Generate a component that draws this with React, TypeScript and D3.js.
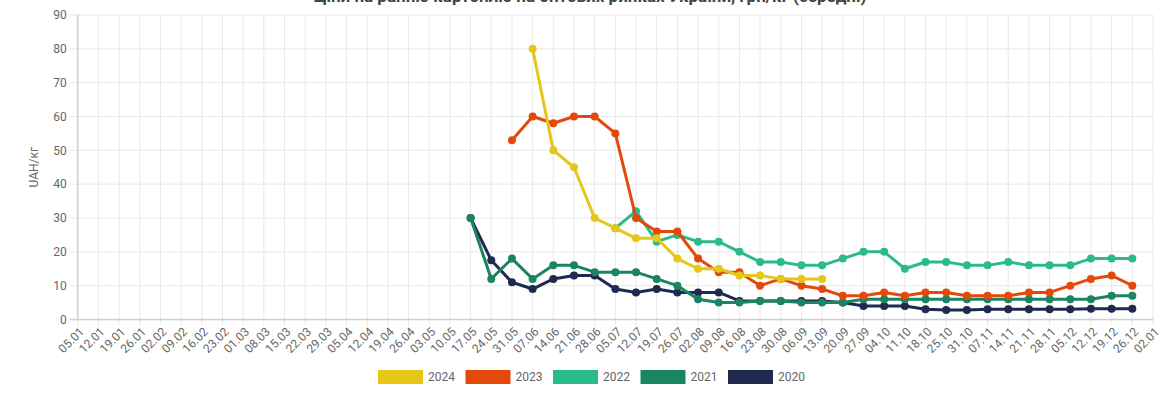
import React from "react";
import * as d3 from "d3";

const labels = ["05.01","12.01","19.01","26.01","02.02","09.02","16.02","23.02","01.03","08.03","15.03","22.03","29.03","05.04","12.04","19.04","26.04","03.05","10.05","17.05","24.05","31.05","07.06","14.06","21.06","28.06","05.07","12.07","19.07","26.07","02.08","09.08","16.08","23.08","30.08","06.09","13.09","20.09","27.09","04.10","11.10","18.10","25.10","31.10","07.11","14.11","21.11","28.11","05.12","12.12","19.12","26.12","02.01"];

const yTicks = [0, 10, 20, 30, 40, 50, 60, 70, 80, 90];

const start2024 = "07.06";
const values2024 = [80,50,45,30,27,24,24,18,15,15,13,13,12,12,12];
const start2023 = "31.05";
const values2023 = [53,60,58,60,60,55,30,26,26,18,14,14,10,12,10,9,7,7,8,7,8,8,7,7,7,8,8,10,12,13,10];
const start2022 = "05.07";
const values2022 = [27,32,23,25,23,23,20,17,17,16,16,18,20,20,15,17,17,16,16,17,16,16,16,18,18,18];
const start2021 = "17.05";
const values2021 = [30,12,18,12,16,16,14,14,14,12,10,6,5,5,5.5,5.5,5,5,5,6,6,6,6,6,6,6,6,6,6,6,6,7,7];
const start2020 = "17.05";
const values2020 = [30,17.5,11,9,12,13,13,9,8,9,8,8,8,5.5,5.5,5.5,5.5,5.5,5,4,4,4,3,2.8,2.8,3,3,3,3,3,3.2,3.2,3.2];

const seriesNames = ["2024", "2023", "2022", "2021", "2020"];
const seriesColors = ["#e6c619", "#e2490b", "#2bbb8a", "#1a8560", "#1f2a4e"];

const series = [
  { name: "2024", start: start2024, values: values2024 },
  { name: "2023", start: start2023, values: values2023 },
  { name: "2022", start: start2022, values: values2022 },
  { name: "2021", start: start2021, values: values2021 },
  { name: "2020", start: start2020, values: values2020 },
];

const W = 1167, H = 413;
const left = 77.7, right = 1153, top = 15, bottom = 319.5;
const font = "Roboto, 'Noto Sans', sans-serif";

export default function App() {
  const x = d3.scalePoint<string>().domain(labels).range([left, right]);
  const y = d3.scaleLinear().domain([0, 90]).range([bottom, top]);
  const line = d3.line<{ l: string; v: number }>().x(d => x(d.l)!).y(d => y(d.v));

  const pts = series.map(s => {
    const i0 = labels.indexOf(s.start);
    return s.values.map((v, i) => ({ l: labels[i0 + i], v }));
  });

  const drawOrder = [4, 3, 2, 1, 0];

  return (
    <svg width={W} height={H} style={{ position: "absolute", left: 0, top: 0, display: "block", background: "#fff" }} fontFamily={font}>
      <text x={590} y={1.5} textAnchor="middle" fontSize={17} fontWeight="bold" fill="#444">
        Ціни на ранню картоплю на оптових ринках України, грн/кг (середні)
      </text>
      {/* grid */}
      {labels.map(l => (
        <line key={"gx" + l} x1={x(l)} x2={x(l)} y1={top} y2={bottom + 6} stroke="#e8e8e8" strokeWidth={1} />
      ))}
      {yTicks.map(t => (
        <line key={"gy" + t} x1={left - 8} x2={right} y1={y(t)} y2={y(t)} stroke={t === 0 ? "#cfcfcf" : "#e8e8e8"} strokeWidth={t === 0 ? 1.5 : 1} />
      ))}
      <line x1={left} x2={left} y1={top} y2={bottom} stroke="#cfcfcf" strokeWidth={1.5} />
      {yTicks.map(t => (
        <text key={"yl" + t} x={left - 11} y={y(t)} dy="0.35em" textAnchor="end" fontSize={12} fill="#666">{t}</text>
      ))}
      {labels.map(l => (
        <text key={"xl" + l} transform={`translate(${x(l)! + 4},${bottom + 10}) rotate(-45)`} textAnchor="end" dy="0.35em" fontSize={12} fill="#666">{l}</text>
      ))}
      <text transform={`translate(38,${(top + bottom) / 2}) rotate(-90)`} textAnchor="middle" fontSize={12} fill="#666">UAH/кг</text>
      {/* series */}
      {drawOrder.map(k => (
        <g key={"s" + k}>
          <path d={line(pts[k]) || ""} fill="none" stroke={seriesColors[k]} strokeWidth={3} strokeLinejoin="round" />
          {pts[k].map((p, i) => (
            <circle key={i} cx={x(p.l)} cy={y(p.v)} r={4} fill={seriesColors[k]} />
          ))}
        </g>
      ))}
      {/* legend */}
      {seriesNames.map((n, i) => (
        <g key={"lg" + n} transform={`translate(${378 + i * 87.5},370)`}>
          <rect x={0} y={0} width={45} height={14} fill={seriesColors[i]} />
          <text x={50} y={7} dy="0.35em" fontSize={12} fill="#666">{n}</text>
        </g>
      ))}
    </svg>
  );
}
